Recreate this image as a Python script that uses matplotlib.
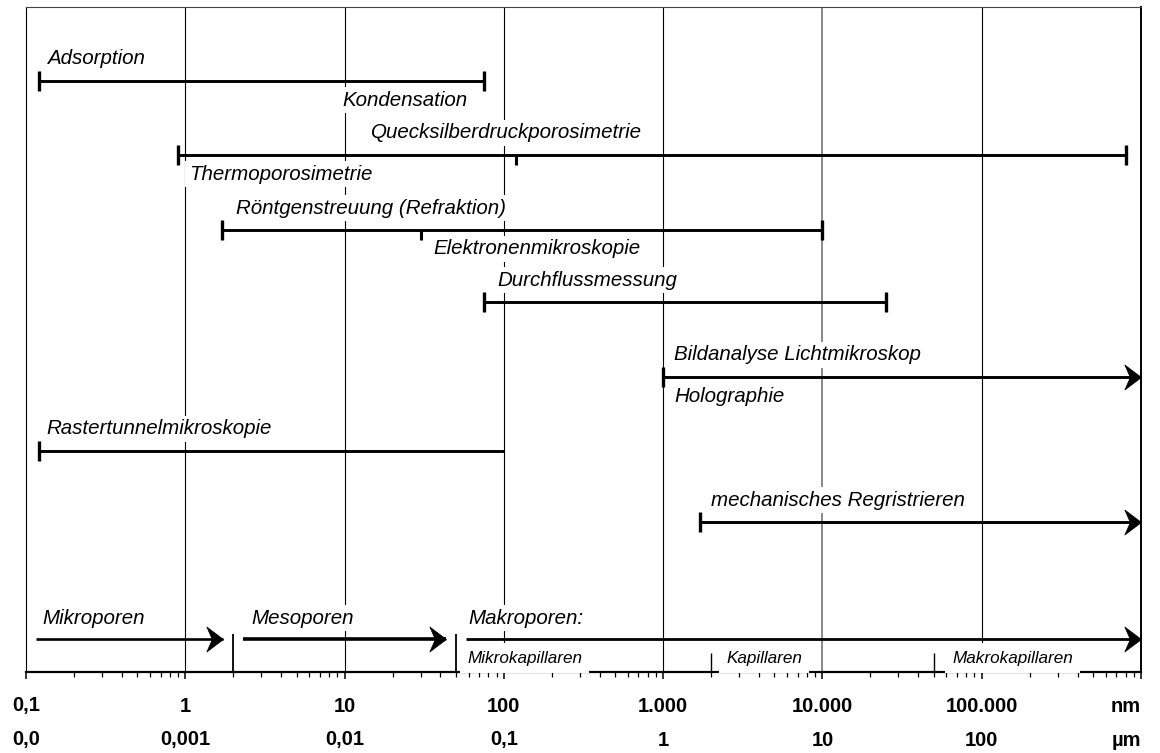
"""
Messmethoden der Porengroessenbestimmung und ihre Messbereiche (nm / µm)
"""

import numpy as np
import matplotlib.pyplot as plt
import matplotlib
from matplotlib.path import Path
from matplotlib.ticker import LogLocator, NullFormatter

matplotlib.rc('font', family=['Liberation Sans', 'DejaVu Sans'], size=14.8)

# measuring ranges (nm), one bar per row
labels_above = ['Adsorption', 'Quecksilberdruckporosimetrie', 'Röntgenstreuung (Refraktion)',
                'Durchflussmessung', 'Bildanalyse Lichtmikroskop', 'Rastertunnelmikroskopie',
                'mechanisches Regristrieren']
labels_below = ['Kondensation', 'Thermoporosimetrie', 'Elektronenmikroskopie', '',
                'Holographie', '', '']
range_start = [0.12, 0.9, 1.7, 75, 1000, 0.12, 1700]
range_end = [75, 8e5, 1e4, 25000, 1e6, 100, 1e6]
split_at = [None, 120, 30, None, None, None, None]

# pore classes
pore_names = ['Mikroporen', 'Mesoporen', 'Makroporen:']
pore_bounds = [0.1, 2, 50, 1e6]
sub_names = ['Mikrokapillaren', 'Kapillaren', 'Makrokapillaren']
sub_bounds = [50, 2000, 50000, 1e6]

# axis labels
tick_pos = 10.0 ** np.arange(-1, 7)
nm_labels = ['0,1', '1', '10', '100', '1.000', '10.000', '100.000', 'nm']
um_labels = ['0,0', '0,001', '0,01', '0,1', '1', '10', '100', 'µm']

# layout (y is in pixel-like units, top = 7, axis = 672)
row_y = [81, 155, 230, 302, 377, 451, 522]
above_x = [0.135, 14.6, 2.07, 91, 1175, 0.135, 2005]
below_x = [9.7, 1.05, 36.2, None, 1175, None, None]
end_style = ['cap', 'cap', 'cap', 'cap', 'arrow', 'none', 'arrow']
pore_y = 639
pore_label_x = [0.126, 2.6, 60]
pore_lw = [1.9, 2.6, 2.0]
sub_label_x = [59, 2490, 65300]
grid_colors = ['k', 'k', 'k', 'k', '#808080', 'k']

# notched arrow head, tip at the origin
head = Path([(0, 0), (-1, 0.75), (-0.67, 0), (-1, -0.75), (0, 0)],
            [Path.MOVETO, Path.LINETO, Path.LINETO, Path.LINETO, Path.CLOSEPOLY])


def arrow(ax, x0, x1, y, lw):
    ax.plot([x0, x1], [y, y], color='k', lw=lw, solid_capstyle='butt', zorder=5)
    ax.plot(x1, y, marker=head, ms=24, mew=0.5, color='k', zorder=5, clip_on=False)


fig = plt.figure(figsize=(11.6, 7.53), dpi=100)
ax = fig.add_axes([26/1160, (753-672)/753, (1141-26)/1160, (672-7)/753])
ax.set_xscale('log')
ax.set_xlim(0.1, 1e6)
ax.set_ylim(672, 7)

box = dict(facecolor='white', edgecolor='none', pad=2.5)

# grid
for xg, c in zip(tick_pos[1:-1], grid_colors):
    ax.axvline(xg, color=c, lw=0.8 if c == 'k' else 1.3, zorder=1)

# method bars
for i in range(len(labels_above)):
    s, e, y = range_start[i], range_end[i], row_y[i]
    if end_style[i] == 'arrow':
        arrow(ax, s, e, y, 2.1)
    else:
        ax.plot([s, e], [y, y], color='k', lw=2.1, solid_capstyle='butt', zorder=4)
    ax.plot(s, y, marker='|', ms=14.5, mew=2.4, color='k', zorder=4)
    if end_style[i] == 'cap':
        ax.plot(e, y, marker='|', ms=14.5, mew=2.4, color='k', zorder=4)
    if split_at[i] is not None:
        ax.vlines(split_at[i], y, y + 10, color='k', lw=2.2, zorder=4)
    ax.text(above_x[i], y - 22, labels_above[i], style='italic', va='center',
            bbox=box, zorder=3)
    if labels_below[i]:
        ax.text(below_x[i], y + 19, labels_below[i], style='italic', va='center',
                bbox=box, zorder=3)

# pore classes
for i in range(3):
    lo, hi = pore_bounds[i], pore_bounds[i+1]
    x0 = lo * 1.15
    x1 = hi / 1.16 if hi < 1e6 else hi
    arrow(ax, x0, x1, pore_y, pore_lw[i])
    ax.text(pore_label_x[i], 618, pore_names[i], style='italic', va='center',
            bbox=box, zorder=3)
ax.vlines(pore_bounds[1:3], 634, 672, color='k', lw=1.3, zorder=4)
ax.vlines(sub_bounds[1:3], 653, 672, color='k', lw=1.0, zorder=4)
for i in range(3):
    ax.text(sub_label_x[i], 658, sub_names[i], style='italic', va='center',
            fontsize=12.3, bbox=dict(facecolor='white', edgecolor='none', pad=5),
            zorder=3)

# ticks and two rows of labels
ax.set_xticks(tick_pos)
ax.set_xticklabels([])
ax.xaxis.set_minor_locator(LogLocator(base=10, subs=np.arange(2, 10), numticks=20))
ax.xaxis.set_minor_formatter(NullFormatter())
ax.set_yticks([])
ax.tick_params(axis='x', which='major', length=5, width=1.1)
ax.tick_params(axis='x', which='minor', length=3.5, width=0.9)
for i in range(len(tick_pos)):
    ha = 'right' if i == len(tick_pos) - 1 else 'center'
    ax.text(tick_pos[i], 706, nm_labels[i], ha=ha, va='center', fontweight='bold',
            fontsize=14.5, clip_on=False)
    ax.text(tick_pos[i], 740, um_labels[i], ha=ha, va='center', fontweight='bold',
            fontsize=14.5, clip_on=False)

ax.spines['bottom'].set_linewidth(1.6)
ax.spines['left'].set_linewidth(0.8)
ax.spines['top'].set_linewidth(0.8)
ax.spines['top'].set_color('#444444')
ax.spines['right'].set_linewidth(1.4)

fig.savefig('out.png', dpi=100)
